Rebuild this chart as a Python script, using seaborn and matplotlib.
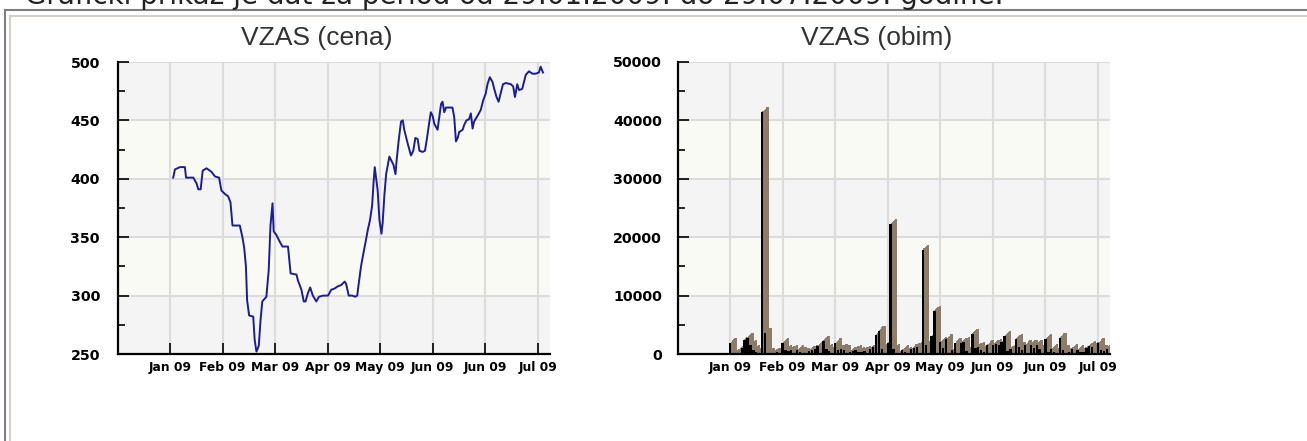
import matplotlib
matplotlib.use("Agg")
import matplotlib.pyplot as plt
from matplotlib.lines import Line2D
from matplotlib.transforms import Affine2D
from matplotlib.ticker import MultipleLocator
import seaborn as sns

W, H = 1307, 441

page_text = "Grafički prikaz je dat za period od 29.01.2009. do 29.07.2009. godine."
titles = ["VZAS (cena)", "VZAS (obim)"]

# x axis = trading day index, a tick every 18 trading days
tick_pos = [0, 18, 36, 54, 72, 90, 108, 126]
tick_labels = ["Jan 09", "Feb 09", "Mar 09", "Apr 09", "May 09", "Jun 09", "Jun 09", "Jul 09"]

# price (cena)
price_day = [1.1, 1.7, 3.4, 5.1, 5.5, 8.0, 9.1, 9.7, 10.5, 11.2, 12.5, 14.2, 15.4, 16.8,
             17.6, 18.8, 19.9, 20.7, 21.4, 23.9, 24.8, 25.4, 26.0, 26.4, 27.1, 28.5, 29.0,
             29.6, 30.4, 31.0, 31.6, 33.0, 33.8, 34.4, 35.1, 35.5, 36.4, 37.6, 38.5, 40.4,
             41.3, 43.3, 43.8, 45.0, 45.8, 46.4, 47.2, 48.0, 48.9, 50.1, 51.0, 52.4, 54.1,
             55.2, 56.3, 57.5, 58.6, 59.8, 60.3, 61.2, 62.4, 63.4, 64.1, 64.6, 65.4, 66.2,
             66.9, 67.7, 68.5, 69.2, 69.7, 70.1, 70.6, 71.1, 71.7, 72.4, 72.8, 73.4, 74.0,
             75.1, 75.7, 76.5, 77.2, 77.6, 78.3, 79.1, 79.7, 80.2, 81.4, 82.5, 83.3, 84.0,
             84.8, 85.4, 86.5, 87.3, 88.0, 88.8, 89.3, 89.9, 90.5, 91.6, 92.2, 92.8, 93.3,
             93.9, 94.5, 96.7, 97.3, 97.9, 98.5, 99.0, 100.2, 100.7, 101.5, 102.4, 103.0,
             103.6, 104.1, 105.3, 106.4, 107.2, 108.1, 108.7, 109.5, 110.4, 111.0, 111.8,
             112.5, 113.2, 114.0, 115.0, 116.7, 117.5, 118.1, 118.9, 119.5, 120.6, 121.8,
             122.9, 124.1, 125.2, 126.3, 126.9, 127.7]
price = [401, 408, 410, 410, 401, 401, 396, 391, 391, 407, 409, 406, 402, 401,
         390, 387, 385, 380, 360, 360, 350, 341, 325, 296, 283, 282, 262,
         252, 257, 279, 295, 299, 322, 360, 379, 355, 352, 346, 342, 342,
         319, 318, 313, 305, 295, 295, 302, 307, 300, 295, 299, 300, 300,
         305, 306, 308, 309, 312, 310, 300, 300, 299, 300, 310, 325, 336,
         345, 356, 365, 377, 397, 410, 400, 390, 365, 353, 362, 386, 404,
         419, 416, 412, 404, 416, 433, 449, 450, 442, 430, 420, 424, 435,
         434, 424, 423, 424, 435, 449, 457, 454, 447, 442, 453, 464, 466,
         457, 461, 461, 453, 432, 435, 440, 442, 446, 450, 451, 456,
         443, 449, 454, 459, 467, 473, 481, 487, 483, 477, 470,
         466, 473, 481, 482, 481, 479, 470, 481, 476, 477, 489,
         492, 490, 490, 491, 496, 491]

# volume (obim)
vol_day = [0, 2, 4, 5, 6, 7, 8, 9, 10, 11, 12, 13, 15, 16, 18, 19, 20, 21, 23, 24, 25,
           27, 28, 29, 30, 32, 33, 34, 36, 37, 38, 39, 41, 42, 43, 44, 45, 46, 48, 49,
           50, 51, 52, 54, 55, 56, 58, 59, 60, 62, 63, 64, 66, 67, 69, 70, 72, 73, 74,
           76, 77, 79, 80, 81, 83, 84, 85, 86, 87, 88, 90, 91, 92, 93, 94, 95, 96, 98,
           99, 100, 101, 103, 104, 105, 106, 108, 109, 110, 111, 113, 114, 115, 116,
           117, 119, 120, 121, 122, 123, 124, 126, 127, 128, 129]
volume = [1800, 200, 1000, 2400, 2800, 1500, 600, 300, 100, 41400, 3650, 200, 200, 300,
          1800, 700, 500, 700, 600, 300, 200, 500, 700, 900, 1300, 2300, 900, 500, 1800,
          700, 800, 600, 300, 500, 600, 300, 300, 500, 900, 1200, 3300, 4000, 900, 1800,
          22200, 800, 200, 600, 300, 800, 1000, 1200, 17800, 1500, 3000, 7400, 2000,
          1000, 2500, 600, 1800, 1800, 2000, 500, 3500, 1000, 1200, 700, 300, 1500,
          1500, 1700, 1500, 2000, 3000, 500, 800, 2600, 1200, 600, 1500, 1600, 1000,
          1600, 800, 2500, 300, 800, 300, 2800, 600, 200, 400, 800, 600, 300, 400,
          1000, 1300, 1200, 1800, 700, 500, 900]

band_grey = "#f4f4f4"
band_light = "#fafaf4"
grid_col = "#dcdcdc"
line_col = "#1c1c96"
shadow_col = "#8c7c68"


def style_axes(ax, yticks, minor, light_bands, ypad):
    ax.set_facecolor(band_grey)
    for lo, hi in light_bands:
        ax.axhspan(lo, hi, color=band_light, lw=0, zorder=0.1)
    ax.set_xlim(-17.8, 130.1)
    ax.set_ylim(yticks[0], yticks[-1])
    ax.set_xticks(tick_pos)
    ax.set_xticklabels(tick_labels, fontsize=8.8, fontweight="bold")
    ax.set_yticks(yticks)
    ax.set_yticklabels([str(v) for v in yticks], fontsize=10.3, fontweight="bold")
    ax.yaxis.set_minor_locator(MultipleLocator(minor))
    ax.grid(True, which="major", color=grid_col, lw=1.5)
    ax.set_axisbelow(True)
    for s in ("top", "right"):
        ax.spines[s].set_visible(False)
    for s in ("left", "bottom"):
        ax.spines[s].set_linewidth(1.6)
        ax.spines[s].set_color("black")
    ax.tick_params(which="major", direction="in", length=8, width=1.2, color="black")
    ax.tick_params(which="minor", direction="in", length=5, width=1.2, color="black")
    ax.tick_params(axis="y", pad=ypad)
    ax.tick_params(axis="x", pad=5)
    ax.set_xlabel("")
    ax.set_ylabel("")


fig = plt.figure(figsize=(W / 100, H / 100), dpi=100)
ax1 = fig.add_axes([118 / W, 87 / H, 432 / W, 292 / H])
ax2 = fig.add_axes([678 / W, 87 / H, 432 / W, 292 / H])

# price line
sns.lineplot(x=price_day, y=price, estimator=None, sort=False, color=line_col,
             lw=1.4, ax=ax1)
style_axes(ax1, [250, 300, 350, 400, 450, 500], 25, [(300, 350), (400, 450)], 13)

# volume bars: brown extrusion drawn as stacked shifted copies, black front on top
n_steps = 6
for k in range(n_steps, 0, -1):
    start = len(ax2.patches)
    sns.barplot(x=vol_day, y=volume, native_scale=True, color=shadow_col, saturation=1,
                errorbar=None, linewidth=0, ax=ax2)
    shift = Affine2D().translate(5.5 * k / n_steps, 5.0 * k / n_steps)
    for p in ax2.patches[start:]:
        p.set_y(-4000)
        p.set_height(p.get_height() + 4000)
        p.set_transform(ax2.transData + shift)
sns.barplot(x=vol_day, y=volume, native_scale=True, color="black", saturation=1,
            errorbar=None, linewidth=0, ax=ax2)
style_axes(ax2, [0, 10000, 20000, 30000, 40000, 50000], 5000,
           [(10000, 20000), (30000, 40000)], 11.5)

# chart titles
for title, cx in zip(titles, [316.5, 876.5]):
    fig.text(cx / W, 1 - 44.7 / H, title, family="Liberation Sans", fontsize=19,
             ha="center", va="baseline", color="#333333")

# page text (its top is cut off by the page edge, as in the screenshot) and frame lines
fig.text(25 / W, 1 - 4.5 / H, page_text, family="DejaVu Sans", fontsize=20,
         ha="left", va="baseline", color="#222222")
fig.add_artist(Line2D([5 / W, 1], [1 - 10 / H, 1 - 10 / H], color="#808080", lw=1.5,
                      transform=fig.transFigure))
fig.add_artist(Line2D([5 / W, 5 / W], [1 - 10 / H, 0], color="#808080", lw=1.5,
                      transform=fig.transFigure))
fig.add_artist(Line2D([10 / W, 1], [1 - 15.5 / H, 1 - 15.5 / H], color="#d4d0c8", lw=1.5,
                      transform=fig.transFigure))
fig.add_artist(Line2D([10 / W, 10 / W], [1 - 15.5 / H, 0], color="#d4d0c8", lw=1.5,
                      transform=fig.transFigure))

fig.savefig("out.png", dpi=100)
